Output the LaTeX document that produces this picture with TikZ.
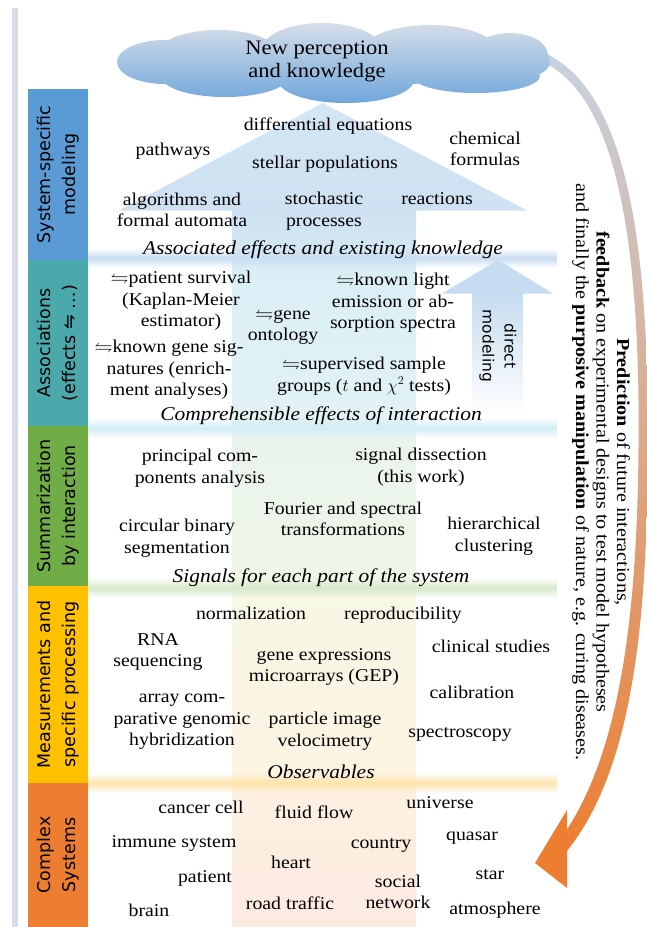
\documentclass[tikz,border=0pt]{standalone}
\usepackage{fontspec}
\usepackage{amssymb}
\setmainfont[FakeStretch=1.1]{Liberation Serif}
\newfontfamily\sansfnt{DejaVu Sans}
\usetikzlibrary{fadings}
\definecolor{ssblue}{HTML}{5B9BD5}
\definecolor{asteal}{HTML}{4BA9AC}
\definecolor{sugreen}{HTML}{70AD47}
\definecolor{megold}{HTML}{FFC000}
\definecolor{csorange}{HTML}{ED7D31}
\definecolor{barg}{HTML}{D5DDE6}
\definecolor{headtop}{HTML}{D4E6F5}
\definecolor{headbot}{HTML}{CDE1F2}
\definecolor{shA}{HTML}{D5EAF5}
\definecolor{shB}{HTML}{D9EEF6}
\definecolor{shC}{HTML}{E3F3F4}
\definecolor{shD}{HTML}{E9F4EE}
\definecolor{shE}{HTML}{EFF6E6}
\definecolor{shF}{HTML}{F7F8E6}
\definecolor{shG}{HTML}{FDF3E1}
\definecolor{shH}{HTML}{FDF0E2}
\definecolor{shI}{HTML}{FBEAE0}
\definecolor{bandA}{HTML}{C9DEF2}
\definecolor{bandB}{HTML}{D0EDF5}
\definecolor{bandC}{HTML}{D6EACB}
\definecolor{bandD}{HTML}{FDE4AA}
\definecolor{dmblue}{HTML}{C6DCF0}
\definecolor{cltop}{HTML}{D6DEE8}
\definecolor{clmid}{HTML}{BAD4EE}
\definecolor{clbot}{HTML}{6FA6DB}
\definecolor{fbtop}{HTML}{C8D2DF}
\definecolor{fbmid}{HTML}{DCB4AA}
\tikzfading[name=bandfade, top color=transparent!100, bottom color=transparent!100, middle color=transparent!0]
\tikzfading[name=downfade, top color=transparent!0, bottom color=transparent!100]
\newcommand{\hp}{$\leftrightharpoons$}
\begin{document}
\begin{tikzpicture}[x=1pt,y=-1pt,
  lbl/.style={font=\sansfnt\fontsize{17.5}{25}\selectfont, align=center, rotate=90, inner sep=0},
  txt/.style={font=\fontsize{18}{21.5}\selectfont, align=center, inner sep=0},
  lay/.style={font=\itshape\fontsize{19.5}{22}\selectfont, inner sep=0},
  band/.style={path fading=bandfade},
  rtxt/.style={font=\fontsize{18.3}{20.5}\selectfont, align=center, rotate=-90, inner sep=0},
  dmtxt/.style={font=\sansfnt\fontsize{15.5}{22}\selectfont, align=center, rotate=-90, inner sep=0}]
\useasboundingbox (0,0) rectangle (646,927);
\fill[white] (0,0) rectangle (646,927);
% left gray bar
\fill[barg] (12,8) rectangle (18,927);
% section boxes
\fill[ssblue] (28,89) rectangle (88,260);
\fill[asteal] (28,260) rectangle (88,426);
\fill[sugreen] (28,426) rectangle (88,586);
\fill[megold] (28,586) rectangle (88,783);
\fill[csorange] (28,783) rectangle (88,927);
\node[lbl] (lss) at (58,174.5) {System-specific\\modeling};
\node[lbl] (las) at (58,343) {Associations\\(effects ⇋ …)};
\node[lbl] (lsu) at (58,506) {Summarization\\by interaction};
\node[lbl] (lme) at (58,684.5) {Measurements and\\specific processing};
\node[lbl] (lcs) at (58,855) {Complex\\Systems};
% big upward arrow
\shade[top color=headtop, bottom color=headbot] (119,210.5) -- (323,103) -- (527,210.5) -- cycle;
\shade[top color=headbot, bottom color=shA] (232,210) rectangle (416,260);
\shade[top color=shB, bottom color=shC] (232,259.5) rectangle (416,426);
\shade[top color=shD, bottom color=shE] (232,425.5) rectangle (416,586);
\shade[top color=shF, bottom color=shG] (232,585.5) rectangle (416,783);
\shade[top color=shH, bottom color=shI] (232,782.5) rectangle (416,927);
% direct modeling arrow
\fill[dmblue] (442,293.5) -- (498,260) -- (553,293.5) -- cycle;
\fill[dmblue, path fading=downfade] (472,293) rectangle (523,414);
% bands
\fill[bandA, band] (88,248) rectangle (557,268);
\fill[bandB, band] (88,418) rectangle (557,438);
\fill[bandC, band] (88,578) rectangle (557,598);
\fill[bandD, band] (88,773) rectangle (557,793);
% feedback arrow
\shade[top color=fbtop, middle color=fbmid, bottom color=csorange]
  (545,53) .. controls (614,86) and (645,198) .. (647.5,400)
  .. controls (650,604) and (637,772) .. (561,858)
  -- (556,845) .. controls (624,757) and (640,598) .. (638.5,400)
  .. controls (636,202) and (606,94) .. (545,63) -- cycle;
\fill[csorange] (535,863) -- (567,810) -- (567,888) -- cycle;
% cloud (union of ellipses)
\shade[top color=cltop, middle color=clmid, bottom color=clbot]
  (165,62) ellipse (48pt and 22pt)
  (218,55) ellipse (62pt and 25pt)
  (322,50) ellipse (60pt and 27pt)
  (430,52) ellipse (68pt and 27pt)
  (510,55) ellipse (38pt and 22pt)
  (520,62) ellipse (30pt and 16pt)
  (225,77) ellipse (63pt and 20pt)
  (346,80) ellipse (68pt and 23pt)
  (476,76) ellipse (64pt and 17pt)
  (333,64) ellipse (190pt and 22pt);
\node[font=\fontsize{20.5}{23}\selectfont, align=center, inner sep=0] (know) at (317,61) {New perception\\and knowledge};
% System-specific modeling
\node[txt] (diffeq) at (328,126) {differential equations};
\node[txt] (pathw) at (173,151) {pathways};
\node[txt] (chem) at (485,149) {chemical\\formulas};
\node[txt] (stellar) at (325,164) {stellar populations};
\node[txt] (algo) at (182,210) {algorithms and\\formal automata};
\node[txt] (stoch) at (324,211) {stochastic\\processes};
\node[txt] (react) at (437,199) {reactions};
\node[lay] (assoc) at (323,250) {Associated effects and existing knowledge};
% Associations
\node[txt] (surv) at (181,301) {\hp patient survival\\(Kaplan-Meier\\estimator)};
\node[txt] (light) at (393,303) {\hp known light\\emission or ab-\\sorption spectra};
\node[txt] (gene) at (283,327) {\hp gene\\ontology};
\node[txt] (sig) at (169,370) {\hp known gene sig-\\natures (enrich-\\ment analyses)};
\node[txt] (superv) at (364,376) {\hp supervised sample\\groups ($t$ and $\chi^2$ tests)};
\node[dmtxt] (dm) at (498,346) {direct\\modeling};
\node[lay] (compr) at (321,416) {Comprehensible effects of interaction};
% Summarization
\node[txt] (pca) at (200,468) {principal com-\\ponents analysis};
\node[txt] (sd) at (421,467) {signal dissection\\(this work)};
\node[txt] (four) at (343,519) {Fourier and spectral\\transformations};
\node[txt] (cbs) at (177,538) {circular binary\\segmentation};
\node[txt] (hier) at (494,536) {hierarchical\\clustering};
\node[lay] (signals) at (321,578) {Signals for each part of the system};
% Measurements
\node[txt] (norm) at (251,613) {normalization};
\node[txt] (repro) at (403,615) {reproducibility};
\node[txt] (rna) at (158,652) {RNA\\sequencing};
\node[txt] (clin) at (491,646) {clinical studies};
\node[txt] (gep) at (324,667) {gene expressions\\microarrays (GEP)};
\node[txt] (calib) at (472,692) {calibration};
\node[txt] (acgh) at (182,722) {array com-\\parative genomic\\hybridization};
\node[txt] (piv) at (325,731) {particle image\\velocimetry};
\node[txt] (spec) at (460,734) {spectroscopy};
\node[lay] (obs) at (321,772) {Observables};
% Complex systems
\node[txt] (cancer) at (201,807) {cancer cell};
\node[txt] (fluid) at (314,812) {fluid flow};
\node[txt] (univ) at (440,803) {universe};
\node[txt] (immune) at (174,843) {immune system};
\node[txt] (country) at (381,845) {country};
\node[txt] (quasar) at (472,838) {quasar};
\node[txt] (heart) at (291,862) {heart};
\node[txt] (patient) at (205,878) {patient};
\node[txt] (social) at (398,892) {social\\network};
\node[txt] (star) at (490,875) {star};
\node[txt] (brain) at (149,910) {brain};
\node[txt] (road) at (290,903) {road traffic};
\node[txt] (atmo) at (495,910) {atmosphere};
% right text
\node[rtxt] (pred) at (601,472) {\textbf{Prediction} of future interactions,\\\textbf{feedback} on experimental designs to test model hypotheses\\and finally the \textbf{purposive manipulation} of nature, e.g. curing diseases.};
\end{tikzpicture}
\end{document}
